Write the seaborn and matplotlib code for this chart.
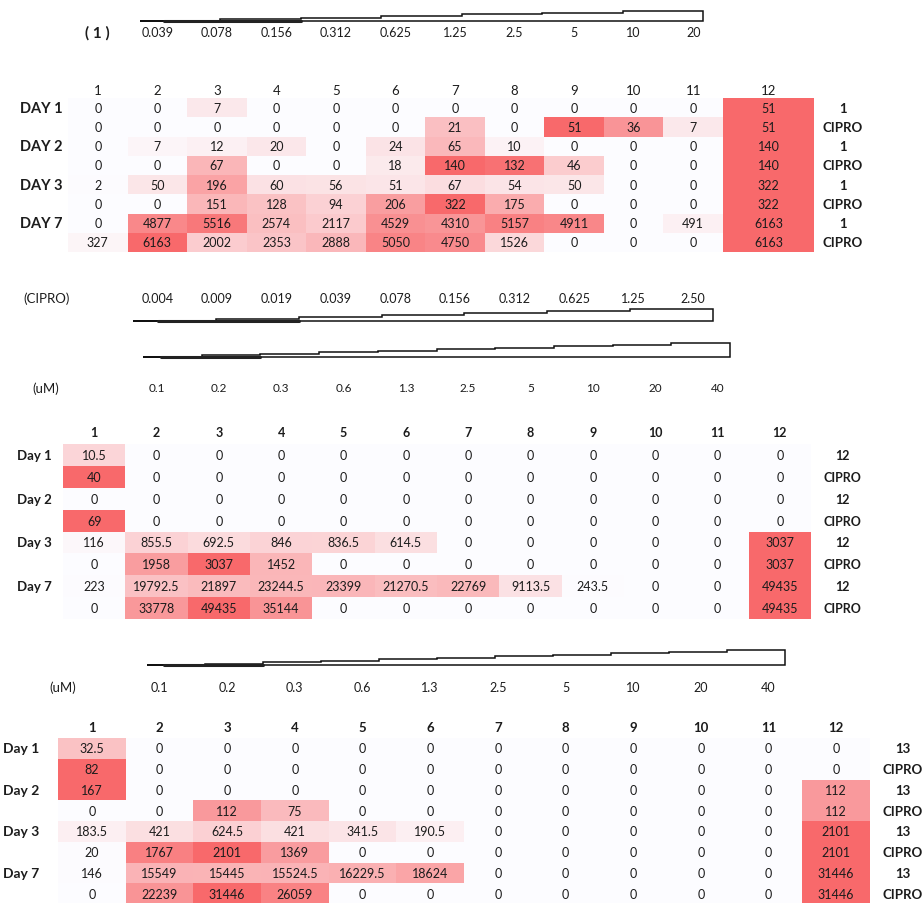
import numpy as np
import matplotlib.pyplot as plt
import matplotlib.transforms as mtransforms
from matplotlib.colors import LinearSegmentedColormap
from matplotlib.patches import Polygon
import seaborn as sns

sns.set_theme(style="white")
plt.rcParams['font.family'] = ['Lato', 'DejaVu Sans']

W, H = 923, 904  # figure size in pixels

# ---- data ----
columns = [str(i) for i in range(1, 13)]

p1_conc = ['0.039', '0.078', '0.156', '0.312', '0.625', '1.25', '2.5', '5', '10', '20']
cipro_conc = ['0.004', '0.009', '0.019', '0.039', '0.078', '0.156', '0.312', '0.625', '1.25', '2.50']
um_conc = ['0.1', '0.2', '0.3', '0.6', '1.3', '2.5', '5', '10', '20', '40']

p1_days = ['DAY 1', 'DAY 2', 'DAY 3', 'DAY 7']
p1_right = ['1', 'CIPRO'] * 4
p1_values = [
    [0, 0, 7, 0, 0, 0, 0, 0, 0, 0, 0, 51],
    [0, 0, 0, 0, 0, 0, 21, 0, 51, 36, 7, 51],
    [0, 7, 12, 20, 0, 24, 65, 10, 0, 0, 0, 140],
    [0, 0, 67, 0, 0, 18, 140, 132, 46, 0, 0, 140],
    [2, 50, 196, 60, 56, 51, 67, 54, 50, 0, 0, 322],
    [0, 0, 151, 128, 94, 206, 322, 175, 0, 0, 0, 322],
    [0, 4877, 5516, 2574, 2117, 4529, 4310, 5157, 4911, 0, 491, 6163],
    [327, 6163, 2002, 2353, 2888, 5050, 4750, 1526, 0, 0, 0, 6163],
]

p2_days = ['Day 1', 'Day 2', 'Day 3', 'Day 7']
p2_right = ['12', 'CIPRO'] * 4
p2_values = [
    [10.5, 0, 0, 0, 0, 0, 0, 0, 0, 0, 0, 0],
    [40, 0, 0, 0, 0, 0, 0, 0, 0, 0, 0, 0],
    [0, 0, 0, 0, 0, 0, 0, 0, 0, 0, 0, 0],
    [69, 0, 0, 0, 0, 0, 0, 0, 0, 0, 0, 0],
    [116, 855.5, 692.5, 846, 836.5, 614.5, 0, 0, 0, 0, 0, 3037],
    [0, 1958, 3037, 1452, 0, 0, 0, 0, 0, 0, 0, 3037],
    [223, 19792.5, 21897, 23244.5, 23399, 21270.5, 22769, 9113.5, 243.5, 0, 0, 49435],
    [0, 33778, 49435, 35144, 0, 0, 0, 0, 0, 0, 0, 49435],
]

p3_days = ['Day 1', 'Day 2', 'Day 3', 'Day 7']
p3_right = ['13', 'CIPRO'] * 4
p3_values = [
    [32.5, 0, 0, 0, 0, 0, 0, 0, 0, 0, 0, 0],
    [82, 0, 0, 0, 0, 0, 0, 0, 0, 0, 0, 0],
    [167, 0, 0, 0, 0, 0, 0, 0, 0, 0, 0, 112],
    [0, 0, 112, 75, 0, 0, 0, 0, 0, 0, 0, 112],
    [183.5, 421, 624.5, 421, 341.5, 190.5, 0, 0, 0, 0, 0, 2101],
    [20, 1767, 2101, 1369, 0, 0, 0, 0, 0, 0, 0, 2101],
    [146, 15549, 15445, 15524.5, 16229.5, 18624, 0, 0, 0, 0, 0, 31446],
    [0, 22239, 31446, 26059, 0, 0, 0, 0, 0, 0, 0, 31446],
]

cmap = LinearSegmentedColormap.from_list('excel_red', ['#FCFCFF', '#F8696B'])
TXT = '#1c1c1c'


def pair_scale(vals):
    # colour scale is shared by the two rows of each day
    arr = np.asarray(vals, dtype=float)
    out = np.zeros_like(arr)
    for r in range(0, arr.shape[0], 2):
        m = arr[r:r + 2].max()
        if m > 0:
            out[r:r + 2] = arr[r:r + 2] / m
    return out


def fmt(v):
    return f"{v:.0f}" if float(v).is_integer() else f"{v:.1f}"


def add_ax(fig, l, t, r, b):
    return fig.add_axes([l / W, 1 - b / H, (r - l) / W, (b - t) / H])


def heat(ax, norm, vals, fs):
    labels = np.vectorize(fmt)(np.asarray(vals, dtype=float))
    sns.heatmap(norm, ax=ax, cmap=cmap, vmin=0, vmax=1, cbar=False,
                annot=labels, fmt='', linewidths=0,
                annot_kws={'fontsize': fs, 'color': TXT},
                xticklabels=False, yticklabels=False)
    ax.set_xlabel('')
    ax.set_ylabel('')


def xtext(fig, ax, x, py, s, **kw):
    tr = mtransforms.blended_transform_factory(ax.transData, fig.transFigure)
    ax.text(x, 1 - py / H, s, transform=tr, ha='center', va='center',
            color=TXT, clip_on=False, **kw)


def ytext(fig, ax, px, y, s, ha='left', **kw):
    tr = mtransforms.blended_transform_factory(fig.transFigure, ax.transData)
    ax.text(px / W, y, s, transform=tr, ha=ha, va='center', color=TXT,
            clip_on=False, **kw)


def wedge(fig, x0, x1, yb, yt, n):
    # stepped concentration wedge (decoration)
    w = (x1 - x0) / n
    dh = (yb - yt) / (n - 1)
    pts = [(x0, yb), (x1, yb), (x1, yt)]
    for i in range(n - 1, -1, -1):
        y = yb - i * dh
        pts.append((x0 + (i + 1) * w, y))
        pts.append((x0 + i * w, y))
    pts = [(x / W, 1 - y / H) for x, y in pts]
    fig.add_artist(Polygon(pts, closed=True, fill=False, edgecolor='#111111',
                           linewidth=1.1, transform=fig.transFigure))
    # darker, thicker start of the wedge
    fig.add_artist(plt.Line2D([(x0 + 0.3 * w) / W, (x0 + 2 * w) / W],
                              [1 - (yb - 0.5) / H, 1 - (yb - 0.5) / H],
                              color='#222222', linewidth=2.2,
                              transform=fig.transFigure))


fig = plt.figure(figsize=(W / 100, H / 100), dpi=100)
fig.patch.set_facecolor('white')

# ---------- panel 1 ----------
n1 = pair_scale(p1_values)
v1 = np.asarray(p1_values, dtype=float)
ax1a = add_ax(fig, 68, 99, 723, 253)
ax1b = add_ax(fig, 723, 99, 814, 253)
heat(ax1a, n1[:, :11], v1[:, :11], 9)
heat(ax1b, n1[:, 11:], v1[:, 11:], 9)

wedge(fig, 140, 703, 22, 12, 7)
xtext(fig, ax1a, 0.5, 33, '( 1 )', fontsize=11, fontweight='bold')
for i, c in enumerate(p1_conc):
    xtext(fig, ax1a, i + 1.5, 33, c, fontsize=9)
for i, c in enumerate(columns[:11]):
    xtext(fig, ax1a, i + 0.5, 91, c, fontsize=9.5)
xtext(fig, ax1b, 0.5, 91, columns[11], fontsize=9.5)
for i, d in enumerate(p1_days):
    ytext(fig, ax1a, 20, 2 * i + 0.5, d, fontsize=10.5, fontweight='bold')
for i, r in enumerate(p1_right):
    ytext(fig, ax1a, 843, i + 0.5, r, ha='center', fontsize=9.5, fontweight='bold')

# CIPRO concentrations share the panel-1 columns
fig.text(47 / W, 1 - 299 / H, '(CIPRO)', ha='center', va='center', fontsize=9.5, color=TXT)
for i, c in enumerate(cipro_conc):
    xtext(fig, ax1a, i + 1.5, 299, c, fontsize=9)
wedge(fig, 133, 713, 322, 310, 7)

# ---------- panel 2 ----------
n2 = pair_scale(p2_values)
ax2 = add_ax(fig, 63, 445, 811, 620)
heat(ax2, n2, p2_values, 9)
wedge(fig, 143, 730, 358, 344, 10)
fig.text(46 / W, 1 - 389 / H, '(uM)', ha='center', va='center', fontsize=9.5, color=TXT)
for i, c in enumerate(um_conc):
    xtext(fig, ax2, i + 1.5, 389, c, fontsize=8.5)
for i, c in enumerate(columns):
    xtext(fig, ax2, i + 0.5, 433, c, fontsize=9, fontweight='bold')
for i, d in enumerate(p2_days):
    ytext(fig, ax2, 17, 2 * i + 0.5, d, fontsize=9.5, fontweight='bold')
for i, r in enumerate(p2_right):
    ytext(fig, ax2, 842, i + 0.5, r, ha='center', fontsize=9, fontweight='bold')

# ---------- panel 3 ----------
n3 = pair_scale(p3_values)
ax3 = add_ax(fig, 58, 739, 870, 905)
heat(ax3, n3, p3_values, 9)
wedge(fig, 147, 785, 666, 651, 11)
fig.text(63 / W, 1 - 688 / H, '(uM)', ha='center', va='center', fontsize=9.5, color=TXT)
for i, c in enumerate(um_conc):
    xtext(fig, ax3, i + 1.5, 688, c, fontsize=9)
for i, c in enumerate(columns):
    xtext(fig, ax3, i + 0.5, 728, c, fontsize=9.5, fontweight='bold')
for i, d in enumerate(p3_days):
    ytext(fig, ax3, 3, 2 * i + 0.5, d, fontsize=10, fontweight='bold')
for i, r in enumerate(p3_right):
    ytext(fig, ax3, 903, i + 0.5, r, ha='center', fontsize=9.5, fontweight='bold')

fig.savefig('out.png', dpi=100)
